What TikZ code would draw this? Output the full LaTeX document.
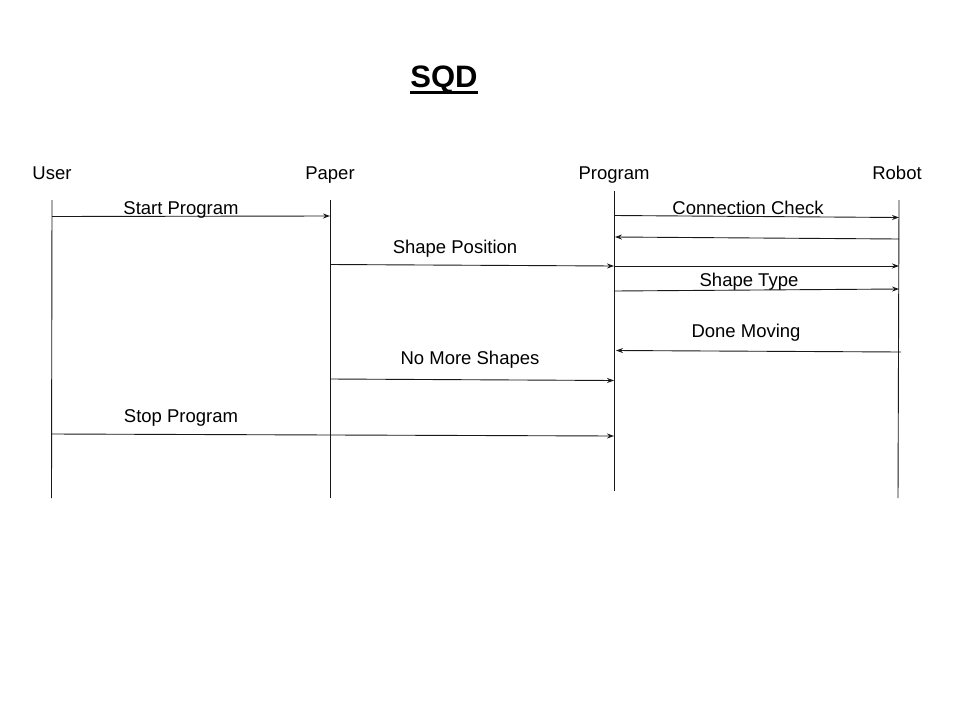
\documentclass[tikz,border=0pt]{standalone}
\usepackage{fontspec}
\setmainfont{Liberation Sans}
\usetikzlibrary{arrows.meta}
\begin{document}
\begin{tikzpicture}[x=1pt,y=-1pt,
  lifeline/.style={draw=black!90,line width=0.9pt},
  msg/.style={draw=black!90,line width=0.9pt,-{Stealth[length=7pt,width=5pt]}},
  actor/.style={anchor=base,inner sep=0pt,font=\fontsize{18.5}{20}\selectfont},
  msglabel/.style={anchor=base,inner sep=0pt,font=\fontsize{18.5}{20}\selectfont}]
\useasboundingbox[fill=white] (0,0) rectangle (960,720);

% title
\node[anchor=base,inner sep=0pt,font=\fontsize{31}{34}\selectfont\bfseries] (title) at (444,87) {SQD};
\draw[line width=2.6pt] (title.base west) ++(0,5.5) coordinate (ul1) -- (title.base east |- ul1);

% participants
\node[actor] (user) at (52,179) {User};
\node[actor] (paper) at (330,179) {Paper};
\node[actor] (program) at (614,179) {Program};
\node[actor] (robot) at (897,179) {Robot};

% lifelines
\coordinate (u-top) at (52,200);   \coordinate (u-bot) at (51.5,498);
\coordinate (p-top) at (330,200);  \coordinate (p-bot) at (330,498);
\coordinate (g-top) at (614,191);  \coordinate (g-bot) at (614,491);
\coordinate (r-top) at (899,200);  \coordinate (r-bot) at (898,498);
\draw[lifeline] (u-top) -- (u-bot);
\draw[lifeline] (p-top) -- (p-bot);
\draw[lifeline] (g-top) -- (g-bot);
\draw[lifeline] (r-top) -- (r-bot);

% message end points
\coordinate (m1a) at (52,216.5);  \coordinate (m1b) at (330,216);
\coordinate (m2a) at (614,215.5); \coordinate (m2b) at (899,217.5);
\coordinate (m3a) at (899,239);   \coordinate (m3b) at (615,237);
\coordinate (m4a) at (330,264.5); \coordinate (m4b) at (614,266);
\coordinate (m5a) at (614,266);   \coordinate (m5b) at (899,266);
\coordinate (m6a) at (614,291);   \coordinate (m6b) at (899,289);
\coordinate (m7a) at (901,352);   \coordinate (m7b) at (616,350.5);
\coordinate (m8a) at (330,379);   \coordinate (m8b) at (614,380.5);
\coordinate (m9a) at (52,434);    \coordinate (m9b) at (614,436);

% messages
\draw[msg] (m1a) -- (m1b);
\draw[msg] (m2a) -- (m2b);
\draw[msg] (m3a) -- (m3b);
\draw[msg] (m4a) -- (m4b);
\draw[msg] (m5a) -- (m5b);
\draw[msg] (m6a) -- (m6b);
\draw[msg] (m7a) -- (m7b);
\draw[msg] (m8a) -- (m8b);
\draw[msg] (m9a) -- (m9b);

% message labels
\node[msglabel] (l1) at (181,214.5) {Start Program};
\node[msglabel] (l2) at (748,214) {Connection Check};
\node[msglabel] (l4) at (455,253.5) {Shape Position};
\node[msglabel] (l6) at (749,286.5) {Shape Type};
\node[msglabel] (l7) at (746,337.5) {Done Moving};
\node[msglabel] (l8) at (470,364.5) {No More Shapes};
\node[msglabel] (l9) at (181,422.5) {Stop Program};
\end{tikzpicture}
\end{document}
